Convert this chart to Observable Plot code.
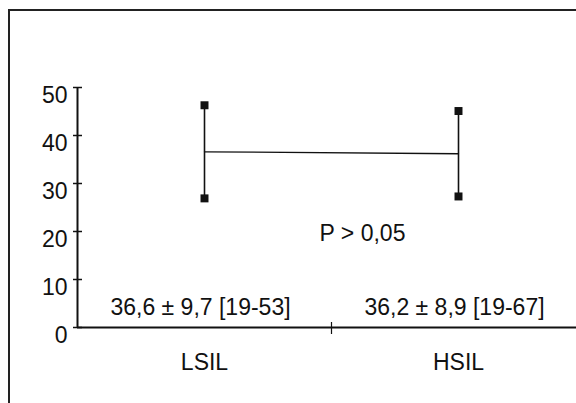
<!DOCTYPE html>
<html>
<head>
<meta charset="utf-8">
<script src="https://cdn.jsdelivr.net/npm/d3@7"></script>
<script src="https://cdn.jsdelivr.net/npm/@observablehq/plot@0.6"></script>
<style>
  html, body { margin: 0; padding: 0; background: #fff; }
  #wrap { position: relative; width: 576px; height: 403px; overflow: hidden; }
  #box { position: absolute; left: 8px; top: 9px; width: 600px; height: 420px;
         border-left: 2px solid #222; border-top: 2px solid #222; }
  #chart { position: absolute; left: 0; top: 0; }
</style>
</head>
<body>
<div id="wrap"><div id="box"></div><div id="chart"></div></div>
<script>
const categories = ["LSIL", "HSIL"];
const means = [36.6, 36.2];
const sds = [9.7, 8.9];
const ranges = ["19-53", "19-67"];
const yTicks = [0, 10, 20, 30, 40, 50];
const pLabel = "P > 0,05";

const fmt = v => v.toFixed(1).replace(".", ",");
const data = categories.map((c, i) => ({
  cat: c,
  pos: i + 0.5,
  mean: means[i],
  lo: means[i] - sds[i],
  hi: means[i] + sds[i],
  label: `${fmt(means[i])} ± ${fmt(sds[i])} [${ranges[i]}]`
}));
const catPos = categories.map((c, i) => i + 0.5);
const boundaries = categories.slice(1).map((c, i) => i + 1);

const ink = "#111";
const chart = Plot.plot({
  width: 576,
  height: 403,
  marginLeft: 77,
  marginRight: 0,
  marginTop: 87,
  marginBottom: 76,
  style: { fontFamily: "'Liberation Sans', Arial, sans-serif", fontSize: "23px", color: ink, background: "transparent" },
  x: { type: "linear", domain: [0, categories.length], range: [77, 585] },
  y: { domain: [yTicks[0], yTicks[yTicks.length - 1]], range: [327, 87] },
  marks: [
    Plot.ruleY([0], { stroke: ink, strokeWidth: 2 }),
    Plot.ruleX([0], { y1: yTicks[0], y2: yTicks[yTicks.length - 1], stroke: ink, strokeWidth: 2 }),
    Plot.axisY({ ticks: yTicks, tickSize: 9, dx: 5, text: null, label: null, stroke: ink, strokeWidth: 1.5 }),
    Plot.axisY({ ticks: yTicks, tickSize: 0, tickPadding: 10, dy: 8, fontSize: 23, label: null, fill: ink }),
    Plot.axisX({ ticks: boundaries, tickSize: 12, dy: -5, text: null, label: null, stroke: ink, strokeWidth: 1.2 }),
    Plot.axisX({ ticks: catPos, tickSize: 0, tickPadding: 26, tickFormat: d => categories[Math.floor(d)], fontSize: 23, label: null, fill: ink }),
    Plot.ruleX(data, { x: "pos", y1: "lo", y2: "hi", stroke: ink, strokeWidth: 1.6 }),
    Plot.line(data, { x: "pos", y: "mean", stroke: ink, strokeWidth: 1.3 }),
    Plot.dot(data, { x: "pos", y: "lo", symbol: "square", r: 4.5, fill: ink, stroke: null }),
    Plot.dot(data, { x: "pos", y: "hi", symbol: "square", r: 4.5, fill: ink, stroke: null }),
    Plot.text(data, { x: "pos", y: 0, dx: -4, dy: -20, text: "label", fontSize: 23, fill: ink }),
    Plot.text([pLabel], { x: boundaries[0], y: 20, dx: 31, dy: 2, text: d => d, fontSize: 23, fill: ink })
  ]
});
document.getElementById("chart").appendChild(chart);
</script>
</body>
</html>
